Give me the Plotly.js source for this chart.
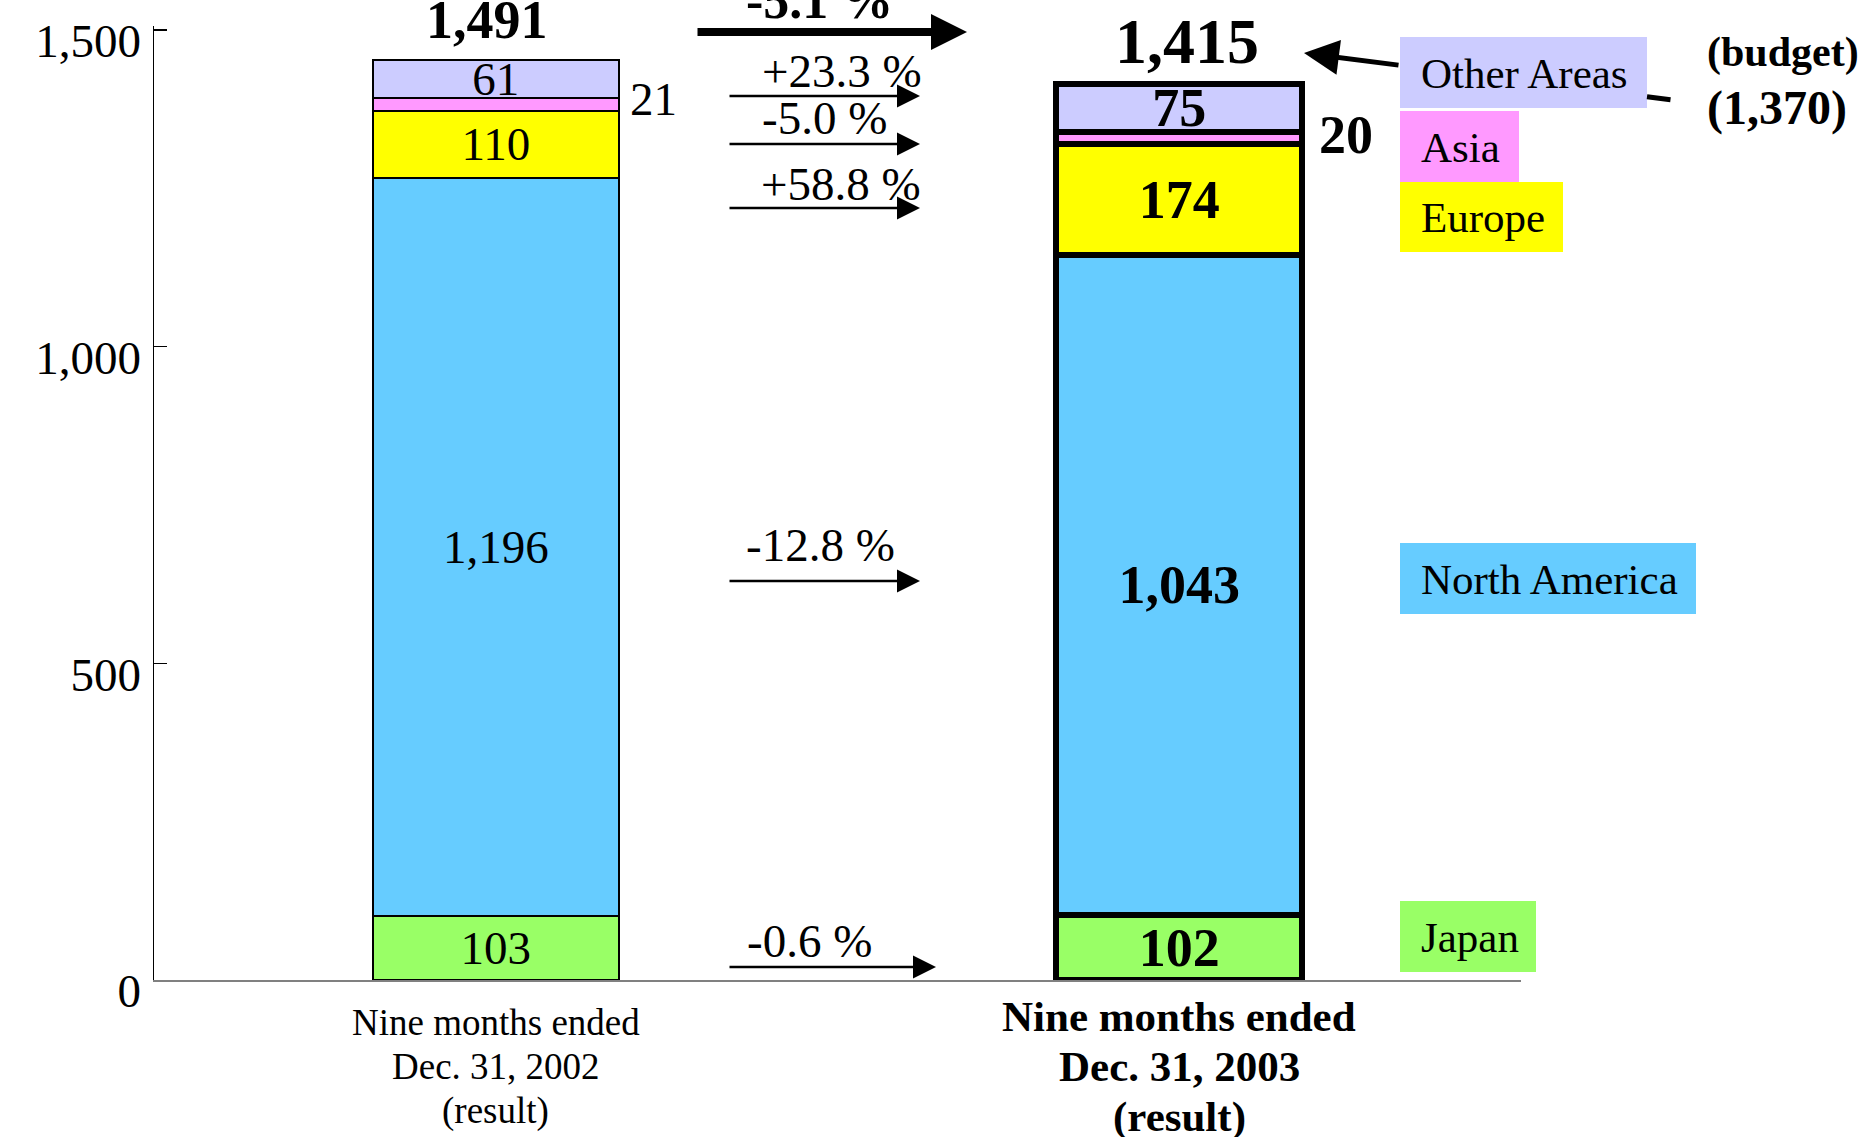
<!DOCTYPE html>
<html>
<head>
<meta charset="utf-8">
<script src="https://cdn.plot.ly/plotly-3.0.1.min.js"></script>
<style>html,body{margin:0;padding:0;background:#fff;}#chart{width:1863px;height:1137px;}</style>
</head>
<body>
<div id="chart"></div>
<script>
// ---------- data ----------
const categories = ['FY2002 Q1-Q3', 'FY2003 Q1-Q3'];
const categoryLabels = [
  ['Nine months ended', 'Dec. 31, 2002', '(result)'],
  ['Nine months ended', 'Dec. 31, 2003', '(result)']
];
const regions = ['Japan', 'North America', 'Europe', 'Asia', 'Other Areas'];
const sales2002 = [103, 1196, 110, 21, 61];
const sales2003 = [102, 1043, 174, 20, 75];
const totals = [1491, 1415];
const budget2003 = 1370;
const changePct = [-0.6, -12.8, 58.8, -5.0, 23.3];
const totalChangePct = -5.1;
const yTickVals = [0, 500, 1000, 1500];

// ---------- style ----------
const regionColors = ['#99FF66', '#66CCFF', '#FFFF00', '#FF99FF', '#CCCCFF'];
const SERIF = 'Liberation Serif, Times New Roman, serif';
const ML = 154, MT = 26, PW = 1367, PH = 954;
const px = x => (x - ML) / PW;
const py = y => (MT + PH - y) / PH;
const fmt = v => v.toLocaleString('en-US');
const pct = p => (p > 0 ? '+' : '') + p.toFixed(1) + ' %';

const years = [sales2002, sales2003];
const traces = [];
regions.forEach((r, i) => {
  years.forEach((vals, j) => {
    traces.push({
      type: 'bar',
      name: r,
      x: [categories[j]],
      y: [vals[i]],
      yaxis: j === 0 ? 'y2' : 'y',
      width: 0.36,
      cliponaxis: false,
      marker: {color: regionColors[i], line: {color: '#000', width: j === 0 ? 2 : 6}},
      text: [r === 'Asia' ? '' : fmt(vals[i])],
      textposition: 'inside',
      insidetextanchor: 'middle',
      textangle: 0,
      constraintext: 'none',
      textfont: {family: SERIF, size: j === 0 ? 47 : 54, color: '#000', weight: j === 0 ? 'normal' : 'bold'},
      hoverinfo: 'skip',
      showlegend: false
    });
  });
});

const annotations = [];
const shapes = [];
function txt(x, y, text, size, bold, xanchor, xref) {
  annotations.push({
    xref: xref || 'paper', yref: 'paper', x: x, y: y, text: text, showarrow: false,
    xanchor: xanchor || 'center', yanchor: 'middle',
    font: {family: SERIF, size: size, color: '#000', weight: bold ? 'bold' : 'normal'}
  });
}
function arrow(tx, ty, hx, hy, width, size, head) {
  annotations.push({
    xref: 'paper', yref: 'paper', x: px(hx), y: py(hy), ax: tx - hx, ay: ty - hy,
    axref: 'pixel', ayref: 'pixel', text: '', showarrow: true,
    arrowhead: head, arrowsize: size, arrowwidth: width, arrowcolor: '#000', standoff: 0
  });
}

// category labels (x = category serial number on the category axis)
const catLineY = [[1022, 1066, 1111], [1016, 1066, 1117]];
categoryLabels.forEach((lines, j) => {
  lines.forEach((line, k) => {
    txt(j, py(catLineY[j][k]), line, j === 0 ? 37 : 43, j === 1, 'center', 'x');
  });
});

// totals
txt(px(487), py(20), fmt(totals[0]), 54, true);
txt(px(1187), py(42), fmt(totals[1]), 64, true);

// Asia labels outside bars
const asiaIdx = regions.indexOf('Asia');
txt(px(653), py(99), fmt(sales2002[asiaIdx]), 47, false);
txt(px(1346), py(135), fmt(sales2003[asiaIdx]), 54, true);

// change arrows (per region, same order as regions)
const rowArrowY = [967, 581, 208, 144, 96];
const rowArrowTip = [936, 920, 920, 920, 920];
const rowTextX = [745, 744, 759, 760, 760];
const rowTextY = [941, 545, 184, 118, 71];
changePct.forEach((p, i) => {
  arrow(728, rowArrowY[i], rowArrowTip[i], rowArrowY[i], 2.5, 1.84, 2);
  txt(px(rowTextX[i]), py(rowTextY[i]), pct(p), 47, false, 'left');
});
arrow(696, 32, 967, 32, 8, 0.9, 2);
txt(px(744), py(0), pct(totalChangePct), 52, true, 'left');

// budget pointer
arrow(1400, 65.3, 1304, 53, 5, 1.4, 2);
arrow(1672, 100, 1647, 96.8, 5, 1, 0);
txt(px(1705), py(53), '(budget)', 42, true, 'left');
txt(px(1705), py(108), '(' + fmt(budget2003) + ')', 48, true, 'left');

// legend boxes
const boxRight = [1536, 1696, 1563, 1519, 1647];
const boxTop = [901, 543, 182, 111, 37];
const boxBottom = [972, 614, 252, 182, 108];
const boxTextY = [937, 579, 218, 147, 73];
regions.forEach((r, i) => {
  shapes.push({
    type: 'rect', xref: 'paper', yref: 'paper', layer: 'above',
    x0: px(1400), x1: px(boxRight[i]), y0: py(boxBottom[i]), y1: py(boxTop[i]),
    fillcolor: regionColors[i], line: {width: 0}
  });
  txt(px(1419), py(boxTextY[i]), r, 43, false, 'left');
});

const layout = {
  width: 1863, height: 1137,
  margin: {l: ML, r: 1863 - ML - PW, t: MT, b: 1137 - MT - PH, pad: 0},
  paper_bgcolor: '#fff', plot_bgcolor: '#fff',
  barmode: 'stack', showlegend: false,
  xaxis: {
    type: 'category', categoryorder: 'array', categoryarray: categories,
    range: [-0.5, 1.5], showticklabels: false, ticks: '', showgrid: false, zeroline: false,
    showline: true, linecolor: '#808080', linewidth: 2, layer: 'below traces', fixedrange: true
  },
  yaxis: {
    range: [0, 1506], tickvals: yTickVals, ticktext: yTickVals.map(fmt),
    ticks: 'inside', ticklen: 13, tickwidth: 1.5, tickcolor: '#000',
    showline: true, linecolor: '#000', linewidth: 1.5, showgrid: false, zeroline: false,
    tickfont: {family: SERIF, size: 47, color: '#000'},
    ticklabelstandoff: 2, ticklabelshift: 11, fixedrange: true
  },
  yaxis2: {
    overlaying: 'y', range: [0, 1546], visible: false, fixedrange: true
  },
  annotations: annotations,
  shapes: shapes
};

Plotly.newPlot('chart', traces, layout, {staticPlot: true, displayModeBar: false});
</script>
</body>
</html>
